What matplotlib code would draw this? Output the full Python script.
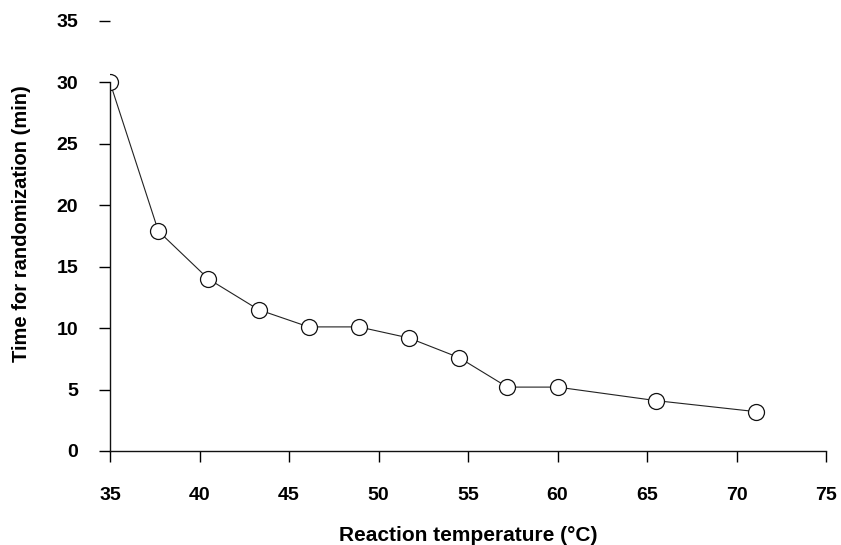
import matplotlib.pyplot as plt

# Datos
temperature = [35.0, 37.7, 40.5, 43.3, 46.1, 48.9, 51.7, 54.5, 57.2, 60.0, 65.5, 71.1]
time_min = [30.0, 17.9, 14.0, 11.5, 10.1, 10.1, 9.2, 7.6, 5.2, 5.2, 4.1, 3.2]

x_ticks = [35, 40, 45, 50, 55, 60, 65, 70, 75]
y_ticks = [0, 5, 10, 15, 20, 25, 30, 35]

plt.rcParams['font.family'] = ['Liberation Sans', 'DejaVu Sans']
plt.rcParams['font.weight'] = 'bold'

fig = plt.figure(figsize=(8.41, 5.45), dpi=100)
ax = fig.add_axes([0.1308, 0.1725, 0.8514, 0.789])

ax.plot(temperature, time_min, color='#222222', linewidth=0.8,
        marker='o', markersize=11.5, markerfacecolor='white',
        markeredgecolor='#111111', markeredgewidth=0.9)

ax.set_xlim(35, 75)
ax.set_ylim(0, 35)
ax.set_xticks(x_ticks)
ax.set_yticks(y_ticks)

for side in ['top', 'right']:
    ax.spines[side].set_visible(False)
for side in ['left', 'bottom']:
    ax.spines[side].set_linewidth(1.0)
    ax.spines[side].set_color('#111111')
# en el original el eje y solo llega hasta 30
ax.spines['left'].set_bounds(0, 30)

ax.tick_params(axis='x', direction='out', length=8, width=1.0, pad=18, labelsize=14)
ax.tick_params(axis='y', direction='out', length=8, width=1.0, pad=15, labelsize=14)

ax.set_xlabel('Reaction temperature (°C)', fontsize=15, fontweight='bold', labelpad=16)
ax.set_ylabel('Time for randomization (min)', fontsize=14.5, fontweight='bold')
ax.yaxis.set_label_coords(-0.110, 0.528)

fig.savefig('out.png', dpi=100)
